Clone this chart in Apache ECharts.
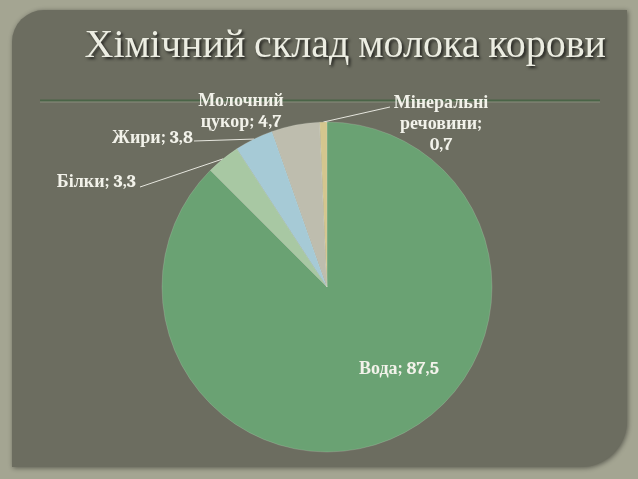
<!DOCTYPE html>
<html>
<head>
<meta charset="utf-8">
<script src="https://cdn.jsdelivr.net/npm/echarts@6/dist/echarts.min.js"></script>
<style>
html,body{margin:0;padding:0;background:#a4a592;}
#chart{width:638px;height:479px;}
</style>
</head>
<body>
<div id="chart"></div>
<script>
// Data
const titleText = 'Хімічний склад молока корови';
const categories = ['Вода', 'Білки', 'Жири', 'Молочний\nцукор', 'Мінеральні\nречовини'];
const values = [87.5, 3.3, 3.8, 4.7, 0.7];
const separators = ['; ', '; ', '; ', '; ', ';\n'];
const sliceColors = ['#6aa273', '#a8c8a3', '#a6cad6', '#bebdae', '#d4c68e'];

// Label placement (layout config): text anchor and leader-line attach offset
const labelSpots = [
  {x: 399, y: 369, align: 'center', line: null},
  {x: 136, y: 182, align: 'right', line: [4, 5]},
  {x: 193, y: 138, align: 'right', line: [1, 3]},
  {x: 241, y: 111, align: 'center', line: null},
  {x: 441, y: 124, align: 'center', line: [-51, -17]}
];

const chart = echarts.init(document.getElementById('chart'), null, {renderer: 'canvas'});

const seriesData = categories.map((c, i) => {
  const item = {name: c, value: values[i], itemStyle: {color: sliceColors[i]}};
  if (i === 0) {
    item.label = {position: 'inside'};
    item.labelLine = {show: false};
  }
  if (i === 3) {
    item.labelLine = {show: false};
  }
  return item;
});

chart.setOption({
  backgroundColor: '#a4a592',
  animation: false,
  graphic: [
    {
      type: 'rect',
      z: -10,
      shape: {x: 12, y: 10, width: 615, height: 457, r: [32, 0, 46, 0]},
      style: {fill: '#6c6d60', shadowBlur: 5, shadowColor: 'rgba(0,0,0,0.45)', shadowOffsetX: 1, shadowOffsetY: 1}
    },
    {
      type: 'line',
      z: -5,
      shape: {x1: 40, y1: 100.5, x2: 600, y2: 100.5},
      style: {stroke: '#4a6447', lineWidth: 2}
    },
    {
      type: 'line',
      z: -5,
      shape: {x1: 40, y1: 102, x2: 600, y2: 102},
      style: {stroke: 'rgba(190,200,180,0.35)', lineWidth: 1}
    }
  ],
  title: {
    text: titleText,
    right: 27,
    top: 21,
    textStyle: {
      fontFamily: 'Cambria, "Liberation Serif", serif',
      fontWeight: 'normal',
      fontSize: 40,
      color: '#ecede2',
      textShadowColor: 'rgba(0,0,0,0.7)',
      textShadowBlur: 3,
      textShadowOffsetX: 2,
      textShadowOffsetY: 2
    }
  },
  series: [{
    type: 'pie',
    center: [327, 287],
    radius: [0, 165],
    startAngle: 90,
    clockwise: true,
    avoidLabelOverlap: false,
    data: seriesData,
    itemStyle: {borderColor: 'rgba(230,235,225,0.35)', borderWidth: 0.5},
    label: {
      show: true,
      position: 'outside',
      formatter: p => p.name + separators[p.dataIndex] + String(p.value).replace('.', ','),
      fontFamily: 'Cambria, "Liberation Serif", serif',
      fontWeight: 'bold',
      fontSize: 18,
      lineHeight: 21,
      color: '#f2f2ea',
      align: 'center'
    },
    labelLine: {
      show: true,
      length: 20,
      length2: 20,
      lineStyle: {color: '#e6e6de', width: 1}
    },
    labelLayout: function (params) {
      const s = labelSpots[params.dataIndex];
      const out = {x: s.x, y: s.y, align: s.align, verticalAlign: 'middle', hideOverlap: false};
      if (s.line && params.labelLinePoints && params.labelLinePoints.length) {
        const p0 = params.labelLinePoints[0];
        out.labelLinePoints = [[p0[0], p0[1]], [s.x + s.line[0], s.y + s.line[1]]];
      }
      return out;
    }
  }]
});
</script>
</body>
</html>
